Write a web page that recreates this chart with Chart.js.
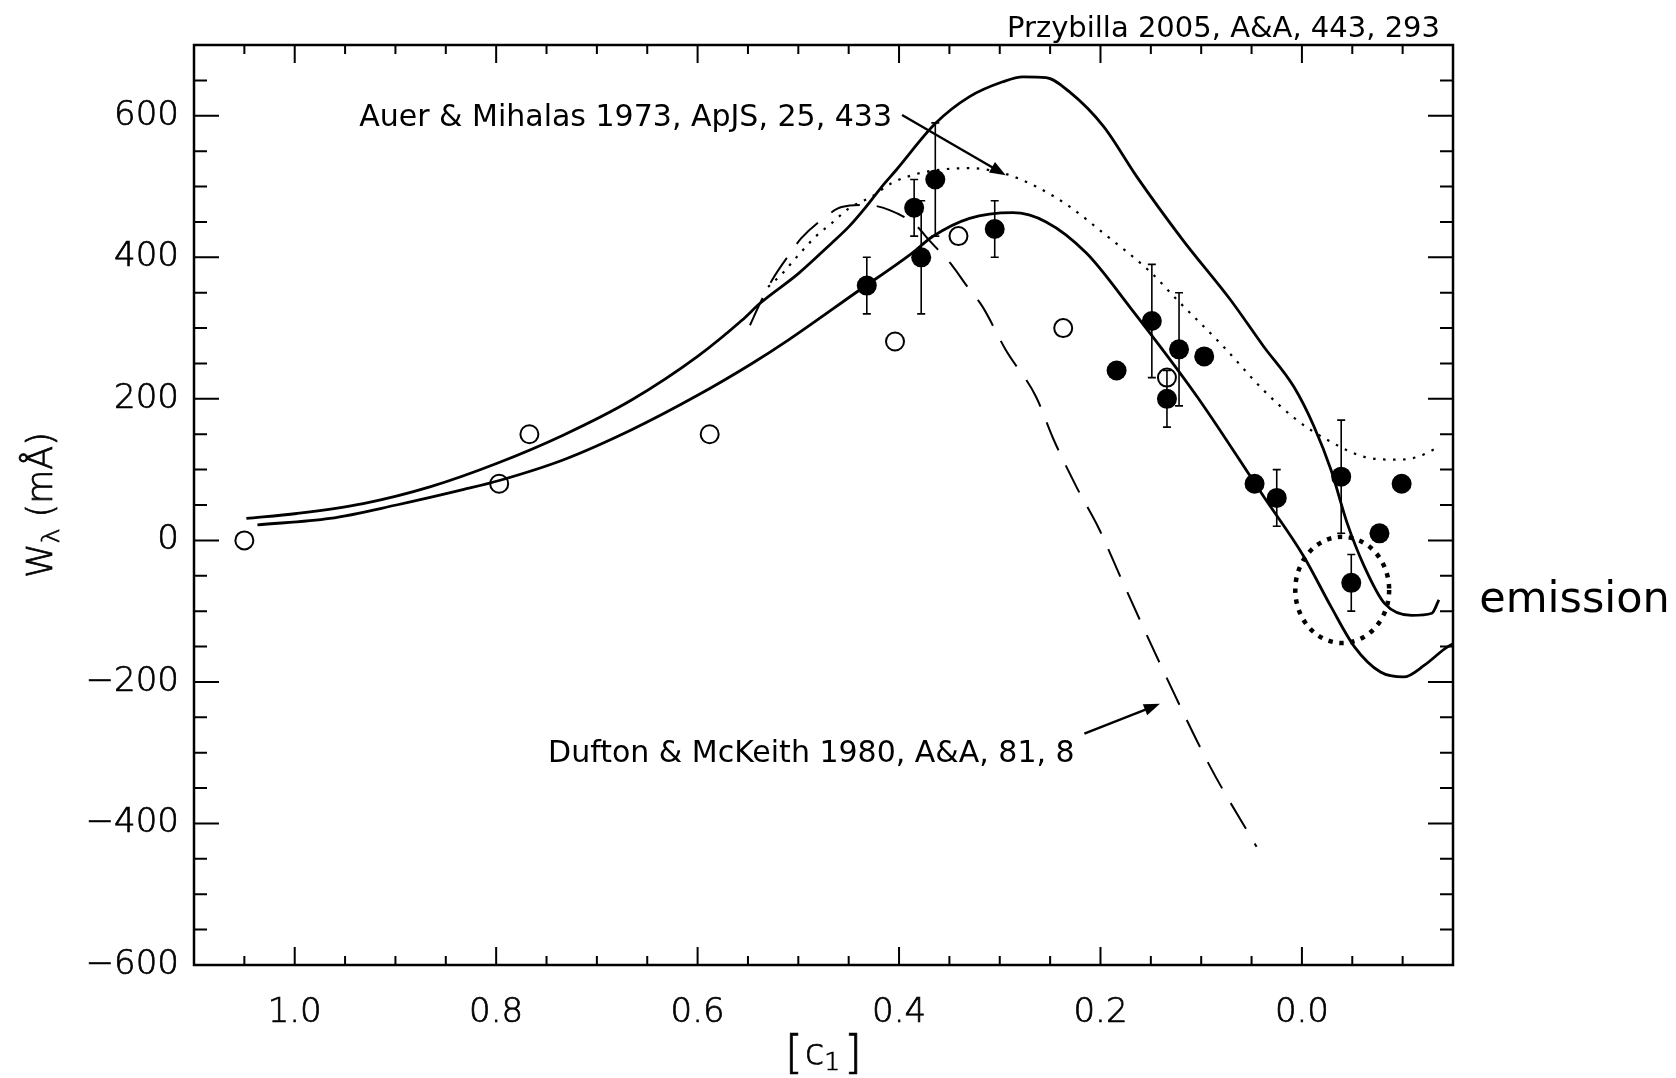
<!DOCTYPE html>
<html>
<head>
<meta charset="utf-8">
<script src="https://cdn.jsdelivr.net/npm/chart.js@4.4.1/dist/chart.umd.min.js"></script>
<style>
  html, body { margin: 0; padding: 0; background: #fff; }
</style>
</head>
<body>
<canvas id="chart" width="1676" height="1078"></canvas>
<script>
// Equivalent width W (mÅ) against the [c1] index

// open circles
const openC = [1.05, 0.797, 0.767, 0.588, 0.404, 0.341, 0.237, 0.134];
const openW = [0, 80, 150, 150, 281, 430, 300, 230];

// filled circles with their error bars (0 = no bar)
const filledC = [0.432, 0.385, 0.378, 0.364, 0.305, 0.184, 0.149, 0.134, 0.122, 0.097, 0.047, 0.025, -0.039, -0.049, -0.077, -0.099];
const filledW = [360, 470, 400, 510, 440, 240, 310, 200, 270, 260, 80, 60, 90, -60, 10, 80];
const filledErr = [40, 40, 80, 80, 40, 0, 80, 40, 80, 0, 0, 40, 80, 40, 0, 0];

// model curves
const upperC = [1.048, 0.998, 0.932, 0.865, 0.799, 0.733, 0.666, 0.600, 0.556, 0.538, 0.500, 0.467, 0.450, 0.433, 0.417, 0.403, 0.364, 0.330, 0.297, 0.277, 0.254, 0.231, 0.197, 0.164, 0.118, 0.071, 0.038, 0.008, -0.012, -0.029, -0.045, -0.062, -0.082, -0.109, -0.129, -0.136];
const upperW = [31, 38, 52, 76, 109, 149, 198, 260, 311, 335, 377, 420, 443, 471, 500, 523, 589, 627, 648, 655, 654, 634, 585, 514, 424, 340, 274, 217, 161, 99, 24, -37, -89, -106, -103, -84];

const lowerC = [1.037, 0.965, 0.899, 0.832, 0.796, 0.733, 0.666, 0.600, 0.546, 0.510, 0.442, 0.387, 0.367, 0.330, 0.287, 0.254, 0.214, 0.171, 0.104, 0.038, -0.002, -0.029, -0.052, -0.078, -0.101, -0.122, -0.142, -0.150];
const lowerW = [22, 31, 50, 72, 85, 114, 156, 205, 250, 283, 351, 406, 429, 455, 463, 450, 406, 330, 203, 62, -23, -94, -150, -186, -193, -176, -153, -146];

// Auer & Mihalas (dotted)
const auerC = [0.530, 0.516, 0.500, 0.483, 0.467, 0.450, 0.427, 0.407, 0.387, 0.364, 0.330, 0.297, 0.264, 0.231, 0.197, 0.151, 0.124, 0.078, 0.038, 0.005, -0.029, -0.062, -0.095, -0.115, -0.132];
const auerW = [358, 377, 403, 429, 448, 469, 486, 505, 516, 523, 526, 519, 500, 472, 434, 380, 340, 274, 212, 170, 139, 118, 114, 118, 129];

// Dufton & McKeith (dashed)
const duftonC = [0.548, 0.538, 0.526, 0.508, 0.497, 0.475, 0.457, 0.433, 0.410, 0.384, 0.370, 0.347, 0.334, 0.317, 0.294, 0.264, 0.247, 0.224, 0.201, 0.181, 0.138, 0.091, 0.045];
const duftonW = [304, 335, 368, 406, 427, 455, 471, 474, 467, 446, 424, 388, 362, 330, 269, 203, 144, 76, 15, -49, -183, -320, -433];

// axes
const xMajorTicks = [1.0, 0.8, 0.6, 0.4, 0.2, 0.0];
const yMajorTicks = [600, 400, 200, 0, -200, -400, -600];

// emission marker: centre and half-axes in data units
const emissionC = -0.040, emissionW = -70, emissionRc = 0.0466, emissionRw = 75;

// callouts: text anchor and arrow from/to, in data units
const auerLabel = 'Auer & Mihalas 1973, ApJS, 25, 433';
const auerAt = [0.407, 585];
const auerArrow = [[0.397, 601], [0.294, 516]];
const duftonLabel = 'Dufton & McKeith 1980, A&A, 81, 8';
const duftonAt = [0.2256, -313];
const duftonArrow = [[0.216, -273], [0.141, -231]];
const emissionLabel = 'emission';
const emissionAt = [-0.176, -101];
const sourceLabel = 'Przybilla 2005, A&A, 443, 293';

const TEXT_FONT = '"DejaVu Sans", sans-serif';
const AXIS_FONT = '"DejaVu Sans", sans-serif';

const pts = (xs, ys) => xs.map((x, i) => ({ x: x, y: ys[i] }));

function arrow(ctx, x0, y0, x1, y1) {
  const a = Math.atan2(y1 - y0, x1 - x0);
  const head = 16, half = 6;
  ctx.beginPath();
  ctx.moveTo(x0, y0);
  ctx.lineTo(x1 - head * 0.8 * Math.cos(a), y1 - head * 0.8 * Math.sin(a));
  ctx.stroke();
  ctx.beginPath();
  ctx.moveTo(x1, y1);
  ctx.lineTo(x1 - head * Math.cos(a) + half * Math.sin(a), y1 - head * Math.sin(a) - half * Math.cos(a));
  ctx.lineTo(x1 - head * Math.cos(a) - half * Math.sin(a), y1 - head * Math.sin(a) + half * Math.cos(a));
  ctx.closePath();
  ctx.fill();
}

// thin axis-style text, thickened a little with a stroke
function axisText(ctx, str, px, py) {
  ctx.fillText(str, px, py);
  ctx.strokeText(str, px, py);
}

const overlay = {
  id: 'overlay',
  afterDatasetsDraw(chart) {
    const { ctx, chartArea: area, scales: { x, y } } = chart;
    ctx.save();
    ctx.strokeStyle = '#000';
    ctx.fillStyle = '#000';

    // error bars
    ctx.lineWidth = 1.6;
    filledC.forEach((c, i) => {
      const e = filledErr[i];
      if (!e) return;
      const px = x.getPixelForValue(c);
      const top = y.getPixelForValue(filledW[i] + e);
      const bot = y.getPixelForValue(filledW[i] - e);
      ctx.beginPath();
      ctx.moveTo(px, top); ctx.lineTo(px, bot);
      ctx.moveTo(px - 4, top); ctx.lineTo(px + 4, top);
      ctx.moveTo(px - 4, bot); ctx.lineTo(px + 4, bot);
      ctx.stroke();
    });

    // frame
    ctx.lineWidth = 2.5;
    ctx.strokeRect(area.left, area.top, area.right - area.left, area.bottom - area.top);

    // inward ticks on all four sides
    ctx.lineWidth = 2;
    ctx.beginPath();
    for (let v = -550; v < 700; v += 50) {
      const py = y.getPixelForValue(v);
      const len = yMajorTicks.includes(v) ? 25 : 13;
      ctx.moveTo(area.left, py); ctx.lineTo(area.left + len, py);
      ctx.moveTo(area.right, py); ctx.lineTo(area.right - len, py);
    }
    for (let k = -2; k <= 21; k++) {
      const v = Math.round(k * 5) / 100;
      const px = x.getPixelForValue(v);
      const len = xMajorTicks.includes(v) ? 18 : 9;
      ctx.moveTo(px, area.bottom); ctx.lineTo(px, area.bottom - len);
      ctx.moveTo(px, area.top); ctx.lineTo(px, area.top + len);
    }
    ctx.stroke();

    // emission marker
    const cx = x.getPixelForValue(emissionC), cy = y.getPixelForValue(emissionW);
    const rx = Math.abs(x.getPixelForValue(emissionC + emissionRc) - cx);
    const ry = Math.abs(y.getPixelForValue(emissionW + emissionRw) - cy);
    ctx.lineWidth = 4.5;
    ctx.setLineDash([4.5, 6.5]);
    ctx.beginPath();
    ctx.ellipse(cx, cy, rx, ry, 0, 0, Math.PI * 2);
    ctx.stroke();
    ctx.setLineDash([]);

    // callout arrows
    ctx.lineWidth = 2.4;
    [auerArrow, duftonArrow].forEach(([from, to]) => {
      arrow(ctx, x.getPixelForValue(from[0]), y.getPixelForValue(from[1]),
                 x.getPixelForValue(to[0]), y.getPixelForValue(to[1]));
    });

    // callout text
    ctx.textBaseline = 'alphabetic';
    ctx.font = '30px ' + TEXT_FONT;
    ctx.textAlign = 'right';
    ctx.fillText(auerLabel, x.getPixelForValue(auerAt[0]), y.getPixelForValue(auerAt[1]));
    ctx.fillText(duftonLabel, x.getPixelForValue(duftonAt[0]), y.getPixelForValue(duftonAt[1]));
    ctx.font = '29px ' + TEXT_FONT;
    ctx.fillText(sourceLabel, area.right - 13, area.top - 8);
    ctx.font = '43px ' + TEXT_FONT;
    ctx.textAlign = 'left';
    ctx.fillText(emissionLabel, x.getPixelForValue(emissionAt[0]), y.getPixelForValue(emissionAt[1]));

    // axis titles
    ctx.lineWidth = 0.7;
    ctx.textAlign = 'left';
    const big = '200 35px ' + AXIS_FONT, small = '200 25px ' + AXIS_FONT, brk = '200 46px ' + AXIS_FONT;
    // y: W with subscript lambda, rotated
    ctx.save();
    ctx.translate(52, (area.top + area.bottom) / 2);
    ctx.rotate(-Math.PI / 2);
    ctx.font = big; const wW = ctx.measureText('W').width;
    ctx.font = small; const wL = ctx.measureText('λ').width;
    ctx.font = big; const wR = ctx.measureText(' (mÅ)').width;
    let sx = -(wW + wL + wR) / 2;
    ctx.font = big; axisText(ctx, 'W', sx, 0); sx += wW;
    ctx.font = small; axisText(ctx, 'λ', sx, 7); sx += wL;
    ctx.font = big; axisText(ctx, ' (mÅ)', sx, 0);
    ctx.restore();

    // x: [c1]
    const mid = (area.left + area.right) / 2;
    const base = 1068;
    ctx.font = brk; const wB1 = ctx.measureText('[').width;
    ctx.font = big; const wc = ctx.measureText('c').width;
    ctx.font = small; const w1 = ctx.measureText('1').width;
    ctx.font = brk; const wB2 = ctx.measureText(']').width;
    let tx = mid - (wB1 + wc + w1 + wB2 + 6) / 2;
    ctx.font = brk; axisText(ctx, '[', tx, base); tx += wB1 + 2;
    ctx.font = big; axisText(ctx, 'c', tx, base - 4); tx += wc;
    ctx.font = small; axisText(ctx, '1', tx, base + 2); tx += w1 + 4;
    ctx.font = brk; axisText(ctx, ']', tx, base);
    ctx.restore();
  }
};

const lineStyle = { type: 'line', showLine: true, pointRadius: 0, fill: false, borderColor: '#000', cubicInterpolationMode: 'monotone', order: 3 };
const tickFont = { family: AXIS_FONT, size: 34, weight: '200' };

new Chart(document.getElementById('chart'), {
  type: 'scatter',
  data: {
    datasets: [
      Object.assign({ data: pts(upperC, upperW), borderWidth: 2.8 }, lineStyle),
      Object.assign({ data: pts(lowerC, lowerW), borderWidth: 2.8 }, lineStyle),
      Object.assign({ data: pts(auerC, auerW), borderWidth: 2.2, borderDash: [2.5, 7.5] }, lineStyle),
      Object.assign({ data: pts(duftonC, duftonW), borderWidth: 2, borderDash: [30, 17] }, lineStyle),
      { data: pts(openC, openW), pointRadius: 9, pointBorderWidth: 2, pointBorderColor: '#000', pointBackgroundColor: 'rgba(0,0,0,0)', order: 1 },
      { data: pts(filledC, filledW), pointRadius: 10, pointBorderWidth: 0, pointBackgroundColor: '#000', order: 0 }
    ]
  },
  options: {
    responsive: false,
    animation: false,
    devicePixelRatio: 1,
    layout: { padding: { left: 0, top: 45, right: 223, bottom: 0 } },
    plugins: { legend: { display: false }, tooltip: { enabled: false } },
    scales: {
      x: {
        type: 'linear', reverse: true, min: -0.15, max: 1.1,
        afterBuildTicks: s => { s.ticks = xMajorTicks.map(v => ({ value: v })); },
        afterFit: s => { s.height = 113; },
        grid: { display: false, drawTicks: false },
        border: { display: false },
        ticks: { color: '#000', textStrokeColor: '#000', textStrokeWidth: 0.7, padding: 28, font: tickFont, maxRotation: 0, callback: v => v.toFixed(1) }
      },
      y: {
        type: 'linear', min: -600, max: 700,
        afterBuildTicks: s => { s.ticks = yMajorTicks.map(v => ({ value: v })); },
        afterFit: s => { s.width = 194; },
        grid: { display: false, drawTicks: false },
        border: { display: false },
        ticks: { color: '#000', textStrokeColor: '#000', textStrokeWidth: 0.7, padding: 15, font: tickFont, callback: v => (v < 0 ? '\u2212' + Math.abs(v) : String(v)) }
      }
    }
  },
  plugins: [overlay]
});
</script>
</body>
</html>
